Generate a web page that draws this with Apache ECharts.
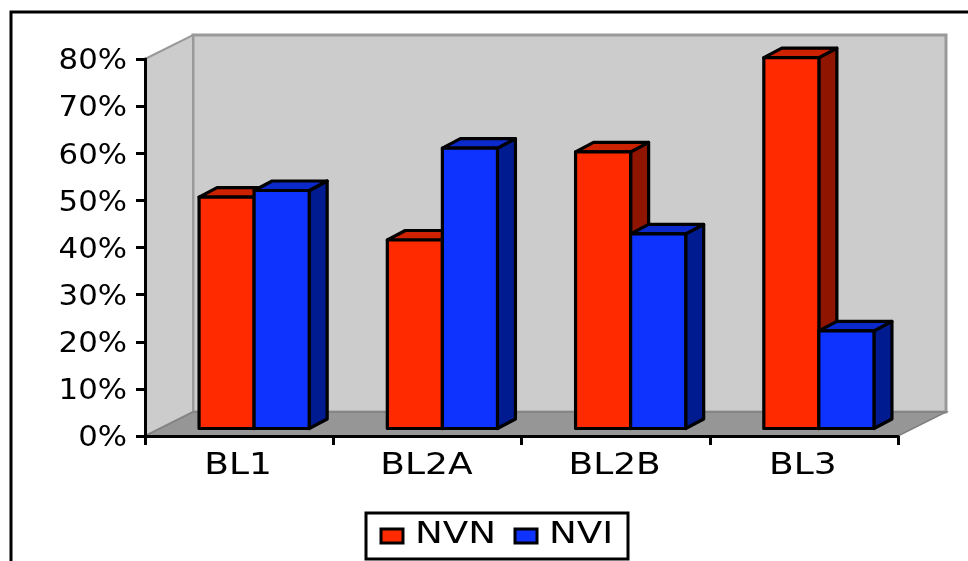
<!DOCTYPE html>
<html>
<head>
<meta charset="utf-8">
<style>html,body{margin:0;padding:0;background:#fff}#c{width:968px;height:561px}</style>
<script src="https://cdn.jsdelivr.net/npm/echarts@6/dist/echarts.min.js"></script>
</head>
<body>
<div id="c"></div>
<script>
const categories = ['BL1', 'BL2A', 'BL2B', 'BL3'];
const nvnValues = [49.1, 40, 58.7, 78.7];
const nviValues = [50.5, 59.5, 41.3, 20.7];
const yTicks = [0, 10, 20, 30, 40, 50, 60, 70, 80];
const seriesNames = ['NVN', 'NVI'];
const redShades = ['#FF2A00', '#CC2200', '#8F1500'];
const blueShades = ['#0F33FF', '#0C29CC', '#001A8F'];

const WALL_DX = 48, WALL_DY = -24;   // chart depth
const FRONT_DX = 15, FRONT_DY = -7.5; // bars' front plane
const BAR_DX = 18, BAR_DY = -9.5;    // bar depth
const BAR_RATIO = 0.2925;
const FONT = '"DejaVu Sans", Verdana, sans-serif';
const EDGE = { stroke: '#000', lineWidth: 3.2, lineJoin: 'round' };

function poly(points, fill, extra) {
  return { type: 'polygon', shape: { points }, style: Object.assign({ fill }, extra || {}) };
}

function renderWalls(params, api) {
  const r = params.coordSys;
  const l = r.x, t = r.y, b = r.y + r.height, rt = r.x + r.width;
  const dx = WALL_DX, dy = WALL_DY;
  const wall = '#CCCCCC', edge = '#999999';
  return {
    type: 'group',
    children: [
      poly([[l + dx, t + dy], [rt + dx, t + dy], [rt + dx, b + dy], [l + dx, b + dy]], wall, { stroke: edge, lineWidth: 3 }),
      poly([[l, t], [l + dx, t + dy], [l + dx, b + dy], [l, b]], wall, { stroke: edge, lineWidth: 2 }),
      poly([[l, b], [rt, b], [rt + dx, b + dy], [l + dx, b + dy]], '#969696', { stroke: '#808080', lineWidth: 1.5 })
    ]
  };
}

function barRenderer(shades, side) {
  return function (params, api) {
    const i = api.value(0);
    const top = api.coord([i, api.value(1)]);
    const base = api.coord([i, 0]);
    const w = api.size([1, 0])[0] * BAR_RATIO;
    const cx = top[0] + FRONT_DX;
    const x0 = side < 0 ? cx - w : cx;
    const x1 = x0 + w;
    const yT = top[1] + FRONT_DY;
    const yB = base[1] + FRONT_DY;
    return {
      type: 'group',
      children: [
        poly([[x1, yT], [x1 + BAR_DX, yT + BAR_DY], [x1 + BAR_DX, yB + BAR_DY], [x1, yB]], shades[2], EDGE),
        poly([[x0, yT], [x0 + BAR_DX, yT + BAR_DY], [x1 + BAR_DX, yT + BAR_DY], [x1, yT]], shades[1], EDGE),
        poly([[x0, yT], [x1, yT], [x1, yB], [x0, yB]], shades[0], EDGE)
      ]
    };
  };
}

function renderYLabel(params, api) {
  const v = api.value(0);
  const p = api.coord([0, v]);
  return {
    type: 'text', x: params.coordSys.x - 18, y: p[1] + 3, scaleX: 1.1,
    style: { text: v + '%', font: '28px ' + FONT, fill: '#000', align: 'right', verticalAlign: 'middle' }
  };
}

function renderXLabel(params, api) {
  const i = api.value(0);
  const p = api.coord([i, 0]);
  return {
    type: 'text', x: p[0] - 1, y: p[1] + 30.5, scaleX: 1.2,
    style: { text: categories[i], font: '30px ' + FONT, fill: '#000', align: 'center', verticalAlign: 'middle' }
  };
}

function customBase(name, data, renderItem, z) {
  return { type: 'custom', name, data, renderItem, z, clip: false, silent: true, coordinateSystem: 'cartesian2d', encode: { x: 0, y: 1 } };
}

const legendY = 536;
function legendSwatch(x, color) {
  return { type: 'rect', shape: { x, y: legendY - 7, width: 22, height: 14 }, style: { fill: color, stroke: '#000', lineWidth: 3 } };
}
function legendText(x, text) {
  return { type: 'text', x, y: legendY - 1, scaleX: 1.24, style: { text, font: '30px ' + FONT, fill: '#000', align: 'left', verticalAlign: 'middle' } };
}

const option = {
  animation: false,
  backgroundColor: '#fff',
  grid: { left: 145, top: 59, width: 753, height: 377, containLabel: false },
  xAxis: {
    type: 'category', data: categories, z: 6,
    boundaryGap: true,
    axisLine: { show: true, lineStyle: { color: '#000', width: 3 } },
    axisTick: { show: true, alignWithLabel: false, length: 9, lineStyle: { color: '#000', width: 3 } },
    axisLabel: { show: false }, splitLine: { show: false }
  },
  yAxis: {
    type: 'value', min: 0, max: 80, interval: 10, z: 6,
    axisLine: { show: true, lineStyle: { color: '#000', width: 3 } },
    axisTick: { show: true, length: 9, lineStyle: { color: '#000', width: 3 } },
    axisLabel: { show: false }, splitLine: { show: false }
  },
  series: [
    customBase('walls', [[0, 0]], renderWalls, 1),
    customBase(seriesNames[0], nvnValues.map((v, i) => [i, v]), barRenderer(redShades, -1), 3),
    customBase(seriesNames[1], nviValues.map((v, i) => [i, v]), barRenderer(blueShades, 1), 4),
    customBase('yLabels', yTicks.map(v => [v]), renderYLabel, 7),
    customBase('xLabels', categories.map((c, i) => [i]), renderXLabel, 7)
  ],
  graphic: [
    { type: 'polyline', shape: { points: [[11, 561], [11, 12], [968, 12]] }, style: { fill: null, stroke: '#000', lineWidth: 3 } },
    { type: 'rect', shape: { x: 366, y: 513, width: 262, height: 46 }, style: { fill: '#fff', stroke: '#000', lineWidth: 3 } },
    legendSwatch(381, redShades[0]),
    legendText(415, seriesNames[0]),
    legendSwatch(515, blueShades[0]),
    legendText(549, seriesNames[1])
  ]
};

const chart = echarts.init(document.getElementById('c'), null, { renderer: 'canvas' });
chart.setOption(option);
</script>
</body>
</html>
